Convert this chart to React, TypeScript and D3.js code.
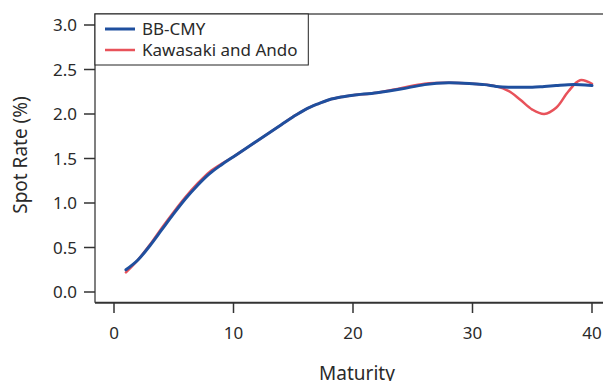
import React, { useEffect, useRef } from 'react';
import * as d3 from 'd3';

// maturities (years) and spot rates (%)
const maturities = [1, 2, 3, 4, 5, 6, 7, 8, 9, 10, 11, 12, 13, 14, 15, 16, 17, 18, 19, 20, 22, 24, 26, 28, 30, 31, 32, 33, 34, 35, 36, 37, 38, 39, 40];
const bbCmy = [0.25, 0.36, 0.52, 0.7, 0.88, 1.05, 1.2, 1.33, 1.43, 1.52, 1.61, 1.7, 1.79, 1.88, 1.97, 2.05, 2.11, 2.16, 2.19, 2.21, 2.24, 2.28, 2.33, 2.35, 2.34, 2.33, 2.31, 2.3, 2.3, 2.3, 2.31, 2.32, 2.33, 2.33, 2.32];
const kawasakiAndo = [0.22, 0.36, 0.53, 0.72, 0.9, 1.07, 1.22, 1.35, 1.44, 1.52, 1.61, 1.7, 1.79, 1.88, 1.97, 2.05, 2.11, 2.16, 2.19, 2.21, 2.24, 2.29, 2.34, 2.35, 2.34, 2.33, 2.31, 2.26, 2.16, 2.05, 2.0, 2.07, 2.25, 2.38, 2.34];

const xTicks = [0, 10, 20, 30, 40];
const yTicks = [0, 0.5, 1.0, 1.5, 2.0, 2.5, 3.0];

const seriesNames = ['BB-CMY', 'Kawasaki and Ando'];
const seriesColors = ['#1f4f9e', '#e8525a'];

const W = 603;
const H = 381;
const FONT = "'Noto Sans', 'Open Sans', sans-serif";

export default function App() {
  const ref = useRef<SVGSVGElement | null>(null);

  useEffect(() => {
    const svg = d3.select(ref.current);
    svg.selectAll('*').remove();

    const left = 95, top = 14, bottom = 302.7;
    const x = d3.scaleLinear().domain([0, 40]).range([114, 592]);
    const y = d3.scaleLinear().domain([0, 3]).range([292, 25]);

    const g = svg.append('g');

    // plot lines, drawn first so frame sits on top
    const line = d3.line<[number, number]>()
      .curve(d3.curveCatmullRom.alpha(0.5))
      .x(d => x(d[0]))
      .y(d => y(d[1]));

    [kawasakiAndo, bbCmy].forEach((vals, i) => {
      const idx = i === 0 ? 1 : 0;
      g.append('path')
        .datum(maturities.map((m, j) => [m, vals[j]] as [number, number]))
        .attr('d', line)
        .attr('fill', 'none')
        .attr('stroke', seriesColors[idx])
        .attr('stroke-width', idx === 0 ? 3 : 2.5)
        .attr('stroke-linecap', 'round');
    });

    // frame
    g.append('path')
      .attr('d', `M${left},${bottom}V${top}H${W + 5}`)
      .attr('fill', 'none')
      .attr('stroke', '#555')
      .attr('stroke-width', 1.5);
    g.append('line')
      .attr('x1', left).attr('x2', W + 5)
      .attr('y1', bottom).attr('y2', bottom)
      .attr('stroke', '#333')
      .attr('stroke-width', 2);

    // y axis
    const yAx = g.append('g');
    yTicks.forEach(t => {
      yAx.append('line')
        .attr('x1', 84).attr('x2', left)
        .attr('y1', y(t)).attr('y2', y(t))
        .attr('stroke', '#333').attr('stroke-width', 1.5);
      yAx.append('text')
        .attr('x', 77).attr('y', y(t))
        .attr('dy', '0.36em')
        .attr('text-anchor', 'end')
        .attr('font-family', FONT)
        .attr('font-size', 17)
        .attr('fill', '#2a2a2a')
        .text(d3.format('.1f')(t));
    });

    // x axis
    const xAx = g.append('g');
    xTicks.forEach(t => {
      xAx.append('line')
        .attr('x1', x(t)).attr('x2', x(t))
        .attr('y1', bottom).attr('y2', 313)
        .attr('stroke', '#333').attr('stroke-width', 1.5);
      xAx.append('text')
        .attr('x', x(t)).attr('y', 339)
        .attr('text-anchor', 'middle')
        .attr('font-family', FONT)
        .attr('font-size', 17)
        .attr('fill', '#2a2a2a')
        .text(String(t));
    });

    // axis titles
    g.append('text')
      .attr('x', 357).attr('y', 380)
      .attr('text-anchor', 'middle')
      .attr('font-family', FONT)
      .attr('font-size', 19)
      .attr('fill', '#2a2a2a')
      .text('Maturity');
    g.append('text')
      .attr('transform', 'translate(27,155) rotate(-90)')
      .attr('text-anchor', 'middle')
      .attr('font-family', FONT)
      .attr('font-size', 19)
      .attr('fill', '#2a2a2a')
      .text('Spot Rate (%)');

    // legend
    const lg = g.append('g');
    lg.append('rect')
      .attr('x', left).attr('y', top)
      .attr('width', 308.3 - left).attr('height', 65 - top)
      .attr('fill', 'white')
      .attr('stroke', '#222')
      .attr('stroke-width', 1);
    seriesNames.forEach((name, i) => {
      const ly = 29 + i * 21;
      lg.append('line')
        .attr('x1', 105).attr('x2', 135)
        .attr('y1', ly).attr('y2', ly)
        .attr('stroke', seriesColors[i])
        .attr('stroke-width', i === 0 ? 3 : 2.5);
      lg.append('text')
        .attr('x', 142).attr('y', ly)
        .attr('dy', '0.36em')
        .attr('font-family', FONT)
        .attr('font-size', 17)
        .attr('fill', '#2a2a2a')
        .text(name);
    });
  }, []);

  return (
    <svg ref={ref} width={W} height={H} style={{ position: 'absolute', left: 0, top: 0, background: 'white' }} />
  );
}
